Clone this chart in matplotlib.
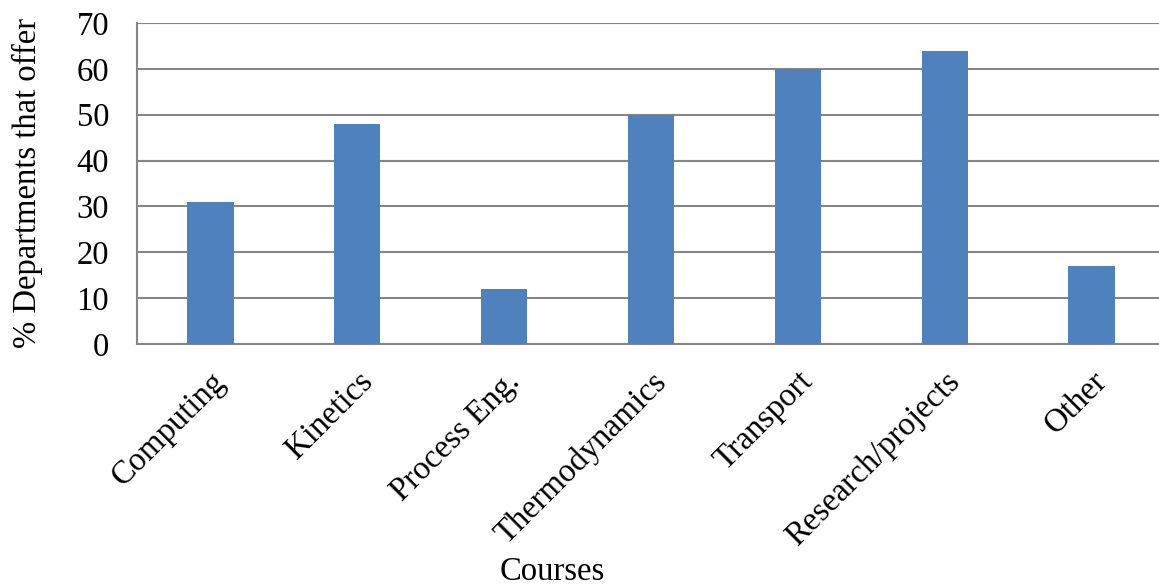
import matplotlib.pyplot as plt
import numpy as np

courses = ["Computing", "Kinetics", "Process Eng.", "Thermodynamics",
           "Transport", "Research/projects", "Other"]
pct_offer = [31, 48, 12, 50, 60, 64, 17]
y_ticks = [0, 10, 20, 30, 40, 50, 60, 70]

plt.rcParams["font.family"] = ["Liberation Serif", "DejaVu Serif"]

W, H = 1159, 585
fig = plt.figure(figsize=(W / 100, H / 100), dpi=100)
# plot area runs slightly past the right edge of the picture
ax = fig.add_axes([137 / W, 1 - 344 / H, (1165 - 137) / W, (344 - 23) / H])

x = np.arange(len(courses))
ax.bar(x, pct_offer, width=0.315, color="#4F81BD", zorder=3)

ax.set_xlim(-0.5, len(courses) - 0.5)
ax.set_ylim(0, 70)
ax.set_yticks(y_ticks)
ax.yaxis.grid(True, color="#868686", lw=1.5, zorder=0)
ax.set_axisbelow(True)

for side in ["top", "right"]:
    ax.spines[side].set_visible(False)
for side in ["left", "bottom"]:
    ax.spines[side].set_color("#868686")
    ax.spines[side].set_linewidth(1.5)

fs = 23.5
ax.tick_params(axis="both", length=0, labelsize=fs)
ax.tick_params(axis="y", pad=20)
ax.set_xticks(x)
ax.set_xticklabels(courses, rotation=45, ha="right", rotation_mode="anchor")
ax.tick_params(axis="x", pad=16)

ax.set_ylabel("% Departments that offer", fontsize=fs, labelpad=24)
fig.text(552 / W, 1 - 572 / H, "Courses", fontsize=fs, ha="center", va="center")

fig.savefig("out.png", dpi=100)
